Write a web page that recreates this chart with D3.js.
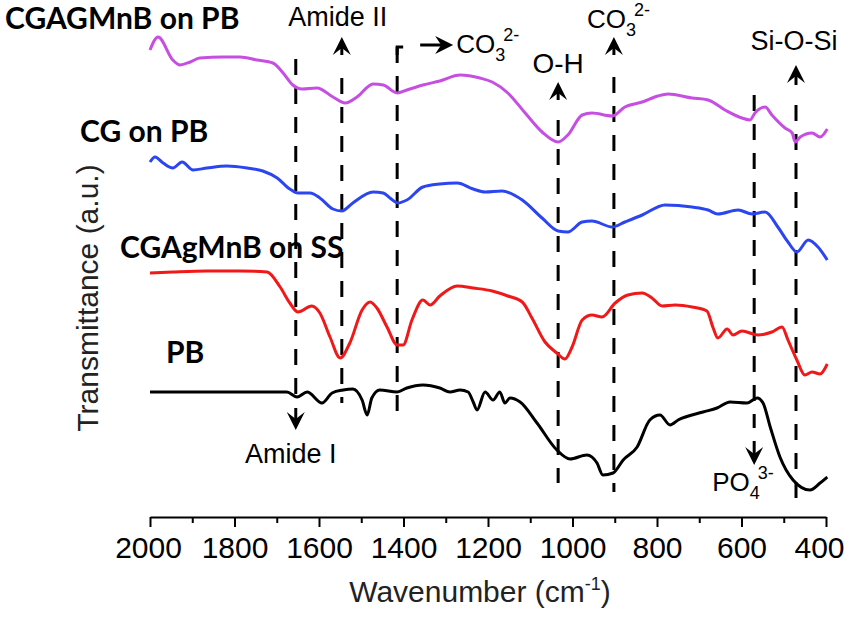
<!DOCTYPE html>
<html>
<head>
<meta charset="utf-8">
<script src="https://cdn.jsdelivr.net/npm/d3@7"></script>
<style>
  body { margin: 0; background: #fff; }
  text { font-family: "Liberation Sans", Arial, sans-serif; }
  .clabel { font-family: Lato, "Open Sans", sans-serif; font-weight: bold; }
</style>
</head>
<body>
<div id="viz-container"></div>
<script>
// spectra: [wavenumber, transmittance a.u.]
let cgagmnbPB = [[2000,93.4],[1981,96.0],[1946,91.4],[1929,90.4],[1905,91.0],[1882,91.8],[1827,92.0],[1787,92.0],[1747,91.4],[1709,90.8],[1685,88.8],[1662,86.4],[1640,85.6],[1605,85.8],[1567,84.0],[1538,82.8],[1510,84.0],[1472,86.6],[1448,86.4],[1415,84.8],[1392,85.4],[1354,86.4],[1314,87.2],[1266,88.4],[1219,87.8],[1190,87.0],[1153,84.8],[1112,80.8],[1072,77.0],[1034,75.0],[1011,76.4],[977,80.4],[954,80.8],[906,80.2],[876,82.0],[835,83.0],[798,84.2],[774,84.6],[717,83.8],[679,83.4],[639,81.4],[599,79.8],[580,79.4],[568,80.8],[544,82.0],[528,80.4],[497,77.8],[480,76.8],[473,75.0],[461,76.0],[433,76.8],[414,76.0],[397,77.6]];

let cgPB = [[2000,71.0],[1988,72.0],[1969,70.8],[1946,69.8],[1924,71.0],[1898,69.4],[1865,69.8],[1818,70.2],[1770,69.8],[1733,69.2],[1699,67.8],[1669,65.6],[1650,64.8],[1621,64.8],[1598,63.8],[1567,61.6],[1546,61.2],[1520,62.8],[1472,65.0],[1448,64.8],[1432,63.8],[1413,62.8],[1392,63.4],[1354,66.0],[1314,66.6],[1273,66.8],[1235,65.6],[1207,65.0],[1167,65.2],[1119,63.4],[1072,59.8],[1034,57.2],[1011,57.0],[977,59.0],[954,59.2],[906,58.0],[876,59.0],[835,60.4],[781,62.4],[717,62.0],[679,61.4],[656,60.6],[608,61.4],[575,60.6],[544,61.0],[514,58.0],[490,55.0],[469,53.0],[442,55.4],[419,54.0],[397,51.4]];

let cgagmnbSS = [[2000,48.8],[1946,49.0],[1865,49.2],[1787,49.2],[1723,49.0],[1692,46.0],[1669,42.8],[1650,41.0],[1617,42.2],[1598,40.8],[1574,36.0],[1550,31.8],[1527,34.8],[1498,41.4],[1479,43.0],[1463,41.8],[1439,38.0],[1415,34.4],[1401,34.4],[1380,39.4],[1354,43.4],[1337,42.4],[1314,44.2],[1273,46.2],[1235,45.8],[1190,45.2],[1153,44.2],[1119,43.0],[1096,39.8],[1065,35.0],[1037,32.8],[1018,31.6],[1001,34.0],[977,39.4],[954,40.4],[930,40.0],[899,42.8],[869,44.4],[835,44.8],[812,43.8],[788,42.2],[757,42.4],[717,42.0],[682,41.2],[667,37.8],[656,35.8],[634,37.6],[620,36.4],[599,37.2],[561,36.4],[528,37.0],[504,38.0],[490,35.4],[469,31.4],[450,28.4],[433,29.0],[414,28.6],[397,30.6]];

let pb = [[2000,25.0],[1865,25.0],[1763,25.0],[1676,25.0],[1652,24.0],[1628,25.0],[1593,22.8],[1569,24.8],[1543,25.4],[1520,25.6],[1498,23.4],[1486,20.4],[1475,23.8],[1456,25.4],[1415,25.0],[1392,25.8],[1354,26.4],[1314,25.8],[1290,25.0],[1266,25.4],[1247,25.0],[1235,23.0],[1226,21.4],[1207,25.0],[1188,23.4],[1172,25.0],[1160,22.8],[1148,23.8],[1124,23.0],[1084,18.8],[1037,13.4],[1006,11.6],[966,12.4],[942,10.8],[928,8.4],[904,8.8],[880,11.4],[847,14.0],[817,19.4],[793,20.4],[769,18.4],[750,19.4],[691,21.0],[658,21.8],[627,23.0],[587,22.8],[563,23.8],[549,22.8],[532,18.0],[509,12.0],[478,7.4],[438,5.4],[414,6.8],[397,8.0]];

let seriesNames = ["CGAGMnB on PB", "CG on PB", "CGAgMnB on SS", "PB"];
let seriesColors = ["#c64fe2", "#2b45f0", "#f01818", "#000000"];

let majorTicks = [2000, 1800, 1600, 1400, 1200, 1000, 800, 600, 400];
let minorTicks = [1900, 1700, 1500, 1300, 1100, 900, 700, 500];

// band positions (cm-1)
let peaks = [1655, 1546, 1415, 1034, 902, 570, 471];

let viz = d3.select("#viz-container")
    .append("svg")
    .attr("id", "viz")
    .attr("width", 850)
    .attr("height", 619)
    .style("background-color", "white");

let xScale = d3.scaleLinear().domain([2000, 400]).range([150, 826]);
let yScale = d3.scaleLinear().domain([0, 100]).range([517, 17]);

//x axis, major then minor ticks
let axisG = viz.append("g").attr("transform", "translate(0,517)");
axisG.call(d3.axisBottom(xScale).tickValues(majorTicks).tickSize(10).tickSizeOuter(0).tickPadding(10).tickFormat(d3.format("d")));
axisG.call(g => g.select(".domain").attr("stroke-width", 2));
axisG.selectAll(".tick line").attr("stroke-width", 2);
axisG.selectAll(".tick text")
    .attr("font-size", 30)
    .attr("fill", "#000")
    .attr("dx", d => d === 400 ? -7 : (d === 2000 ? -2 : 0)); //last label pulled in like the original

let minorG = viz.append("g").attr("transform", "translate(0,517)");
minorG.call(d3.axisBottom(xScale).tickValues(minorTicks).tickSize(6).tickFormat(""));
minorG.select(".domain").remove();
minorG.selectAll(".tick line").attr("stroke-width", 2);

//axis titles
let xt = viz.append("text")
    .attr("x", 480)
    .attr("y", 602)
    .attr("text-anchor", "middle")
    .attr("font-size", 30)
    .attr("fill", "#222");
xt.append("tspan").text("Wavenumber (cm");
xt.append("tspan").text("-1").attr("font-size", 18).attr("dy", -12);
xt.append("tspan").text(")").attr("dy", 12);

viz.append("text")
    .text("Transmittance (a.u.)")
    .attr("transform", "translate(98,298) rotate(-90)")
    .attr("text-anchor", "middle")
    .attr("font-size", 30)
    .attr("fill", "#222");

//dashed marker lines  [top, bottom] in a.u.
let dashSpans = [[91.6, 24.4], [87.8, 22.8], [94, 18.8], [79.4, 6.8], [88, 5], [84.4, 17.8], [82.4, 2.4]];
viz.selectAll(".peakline").data(peaks).enter().append("line")
    .attr("class", "peakline")
    .attr("x1", d => xScale(d))
    .attr("x2", d => xScale(d))
    .attr("y1", (d, i) => yScale(dashSpans[i][0]))
    .attr("y2", (d, i) => yScale(dashSpans[i][1]))
    .attr("stroke", "#000")
    .attr("stroke-width", 3)
    .attr("stroke-dasharray", "16,13");

//spectra
let line = d3.line()
    .x(d => xScale(d[0]))
    .y(d => yScale(d[1]))
    .curve(d3.curveMonotoneX);

let spectra = [cgagmnbPB, cgPB, cgagmnbSS, pb];
viz.selectAll(".spectrum").data(spectra).enter().append("path")
    .attr("class", "spectrum")
    .attr("d", line)
    .attr("fill", "none")
    .attr("stroke", (d, i) => seriesColors[i])
    .attr("stroke-width", 3)
    .attr("stroke-linejoin", "round");

//curve names
let labelPos = [[5, 29], [80, 142], [120, 258], [166, 363]];
viz.selectAll(".clabel").data(seriesNames).enter().append("text")
    .attr("class", "clabel")
    .text(d => d)
    .attr("x", (d, i) => labelPos[i][0])
    .attr("y", (d, i) => labelPos[i][1])
    .attr("font-size", 30)
    .attr("fill", "#000");

//arrows
function arrowHead(x, tipY, dir) {
    // dir -1 = up, 1 = down
    let h = 18, w = 9, n = 11;
    return "M" + x + "," + tipY +
        "L" + (x - w) + "," + (tipY - dir * h) +
        "L" + x + "," + (tipY - dir * n) +
        "L" + (x + w) + "," + (tipY - dir * h) + "Z";
}
function vArrow(w, tipVal, dir, stem) {
    let x = xScale(w), tip = yScale(tipVal);
    viz.append("path").attr("d", arrowHead(x, tip, dir)).attr("fill", "#000");
    viz.append("line")
        .attr("x1", x).attr("x2", x)
        .attr("y1", tip - dir * 8).attr("y2", tip - dir * stem)
        .attr("stroke", "#000").attr("stroke-width", 3);
}
vArrow(peaks[0], 17.4, 1, 22);
vArrow(peaks[1], 96, -1, 18);
vArrow(peaks[3], 87, -1, 18);
vArrow(peaks[4], 96, -1, 18);
vArrow(peaks[5], 10.4, 1, 24);
vArrow(peaks[6], 90.4, -1, 20);

//corner at top of 1415 line and arrow pointing right
let cx = xScale(peaks[2]);
viz.append("path")
    .attr("d", "M" + cx + "," + (yScale(94) + 8) + "V" + yScale(94) + "H" + (cx + 6))
    .attr("fill", "none").attr("stroke", "#000").attr("stroke-width", 3);
viz.append("line")
    .attr("x1", cx + 23).attr("x2", cx + 46)
    .attr("y1", 45).attr("y2", 45)
    .attr("stroke", "#000").attr("stroke-width", 3);
viz.append("path")
    .attr("d", "M" + (cx + 56) + ",45L" + (cx + 38) + ",36L" + (cx + 44) + ",45L" + (cx + 38) + ",54Z")
    .attr("fill", "#000");

//band labels
function label(txt, x, y, anchor) {
    return viz.append("text").text(txt)
        .attr("x", x).attr("y", y)
        .attr("text-anchor", anchor || "middle")
        .attr("font-size", 27)
        .attr("fill", "#000");
}
function ionLabel(base, sub, sup, x, y) {
    let t = viz.append("text").attr("x", x).attr("y", y).attr("font-size", 26).attr("fill", "#000");
    t.append("tspan").text(base);
    t.append("tspan").text(sub).attr("font-size", 18).attr("dy", 8);
    t.append("tspan").text(sup).attr("font-size", 18).attr("dx", -2).attr("dy", -20);
}
label("Amide I", xScale(peaks[0]) - 5, 463);
label("Amide II", xScale(peaks[1]) - 4, 26);
label("O-H", xScale(peaks[3]), 73).attr("font-size", 28);
label("Si-O-Si", xScale(peaks[6]) - 2, 50);
ionLabel("CO", "3", "2-", cx + 59, 53);
ionLabel("CO", "3", "2-", xScale(peaks[4]) - 27, 28);
ionLabel("PO", "4", "3-", xScale(peaks[5]) - 42, 491);
</script>
</body>
</html>
